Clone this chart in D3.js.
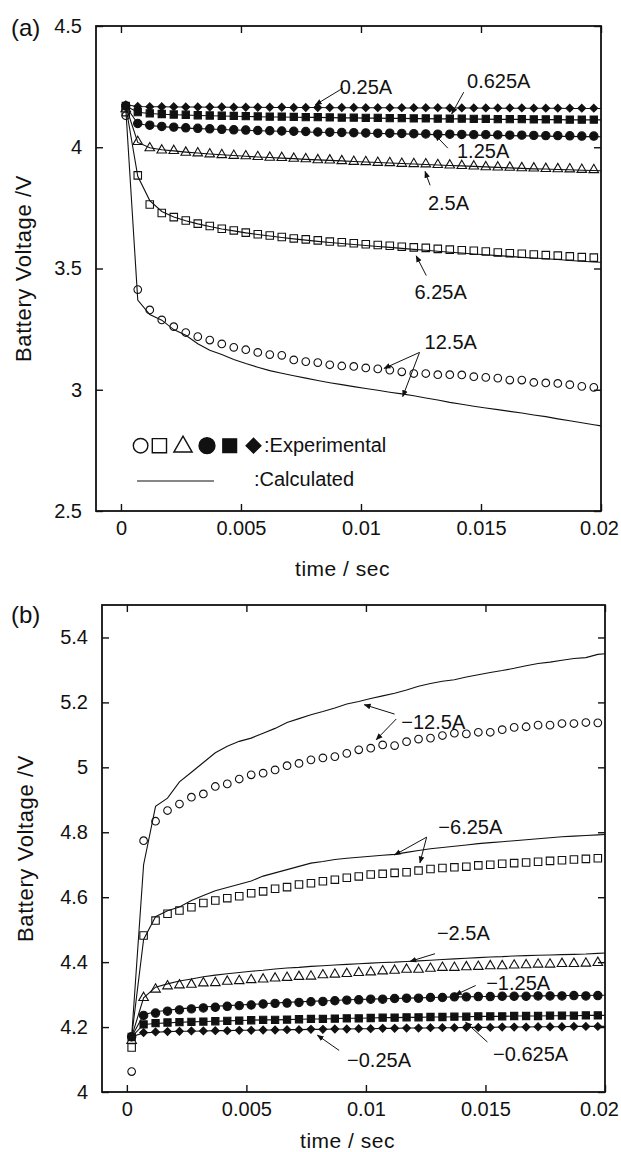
<!DOCTYPE html>
<html><head><meta charset="utf-8">
<script src="https://cdn.jsdelivr.net/npm/d3@7"></script>
<style>
body{margin:0;background:#fff}
text{font-family:"Liberation Sans",Arial,Helvetica,sans-serif;fill:#111}
</style>
</head><body>
<svg id="chart" width="621" height="1152"></svg>
<script>
// ---------------- data ----------------
const times = [0.0002,0.0007,0.0012,0.0017,0.0022,0.0027,0.0032,0.0037,0.0042,0.0047,0.0052,0.0057,0.0062,0.0067,0.0072,0.0077,0.0082,0.0087,0.0092,0.0097,0.0102,0.0107,0.0112,0.0117,0.0122,0.0127,0.0132,0.0137,0.0142,0.0147,0.0152,0.0157,0.0162,0.0167,0.0172,0.0177,0.0182,0.0187,0.0192,0.0197];
const calcTimes = [0.0002,0.0007,0.0012,0.0017,0.0022,0.0027,0.0032,0.0037,0.0042,0.0047,0.0052,0.0057,0.0062,0.0067,0.0072,0.0077,0.0082,0.0087,0.0092,0.0097,0.0102,0.0107,0.0112,0.0117,0.0122,0.0127,0.0132,0.0137,0.0142,0.0147,0.0152,0.0157,0.0162,0.0167,0.0172,0.0177,0.0182,0.0187,0.0192,0.0197,0.0200];

const xTicks = [0,0.005,0.01,0.015,0.02];
const xTickLabels = ["0","0.005","0.01","0.015","0.02"];
const yTicksA = [2.5,3,3.5,4,4.5];
const yTickLabelsA = ["2.5","3","3.5","4","4.5"];
const yTicksB = [4,4.2,4.4,4.6,4.8,5,5.2,5.4];
const yTickLabelsB = ["4","4.2","4.4","4.6","4.8","5","5.2","5.4"];

// (a) discharge – experimental
const expA_12_5 = [4.13,3.413,3.329,3.288,3.260,3.236,3.219,3.205,3.189,3.175,3.165,3.154,3.145,3.142,3.123,3.116,3.112,3.103,3.098,3.096,3.090,3.086,3.081,3.074,3.067,3.067,3.062,3.062,3.061,3.054,3.051,3.048,3.040,3.040,3.030,3.028,3.026,3.021,3.014,3.010];
const expA_6_25 = [4.145,3.884,3.764,3.729,3.712,3.698,3.685,3.675,3.664,3.657,3.648,3.641,3.636,3.630,3.624,3.620,3.616,3.611,3.608,3.604,3.600,3.597,3.594,3.590,3.587,3.585,3.581,3.578,3.575,3.573,3.570,3.566,3.563,3.561,3.558,3.555,3.553,3.550,3.547,3.545];
const expA_2_5 = [4.16,4.025,3.999,3.990,3.988,3.981,3.978,3.974,3.971,3.968,3.966,3.963,3.960,3.959,3.956,3.954,3.950,3.949,3.946,3.943,3.942,3.939,3.938,3.935,3.934,3.933,3.930,3.928,3.926,3.924,3.921,3.920,3.919,3.917,3.916,3.914,3.913,3.912,3.910,3.909];
const expA_1_25 = [4.17,4.098,4.091,4.086,4.083,4.080,4.078,4.076,4.074,4.072,4.071,4.069,4.068,4.067,4.066,4.065,4.063,4.062,4.061,4.060,4.059,4.058,4.058,4.057,4.056,4.055,4.054,4.054,4.053,4.052,4.052,4.051,4.050,4.050,4.049,4.048,4.048,4.047,4.046,4.046];
const expA_0_625 = [4.17,4.145,4.140,4.137,4.135,4.134,4.132,4.131,4.130,4.129,4.128,4.127,4.126,4.126,4.125,4.124,4.124,4.123,4.122,4.122,4.121,4.121,4.120,4.120,4.119,4.119,4.118,4.118,4.118,4.117,4.117,4.116,4.116,4.116,4.115,4.115,4.115,4.114,4.114,4.114];
const expA_0_25 = [4.175,4.168,4.167,4.167,4.167,4.166,4.166,4.166,4.166,4.165,4.165,4.165,4.165,4.165,4.164,4.164,4.164,4.164,4.164,4.164,4.163,4.163,4.163,4.163,4.163,4.163,4.163,4.162,4.162,4.162,4.162,4.162,4.162,4.162,4.161,4.161,4.161,4.161,4.161,4.161];

// (a) discharge – calculated
const calcA_12_5 = [4.16,3.37,3.31,3.287,3.248,3.225,3.19,3.163,3.145,3.125,3.108,3.093,3.079,3.068,3.058,3.048,3.038,3.029,3.021,3.013,3.005,2.998,2.990,2.983,2.975,2.966,2.958,2.948,2.940,2.932,2.925,2.918,2.911,2.904,2.896,2.889,2.880,2.872,2.864,2.856,2.851];
const calcA_6_25 = [4.17,3.88,3.78,3.735,3.712,3.697,3.684,3.673,3.663,3.655,3.647,3.640,3.634,3.628,3.622,3.617,3.612,3.607,3.603,3.599,3.595,3.591,3.587,3.583,3.579,3.575,3.571,3.567,3.564,3.560,3.557,3.553,3.550,3.546,3.543,3.540,3.537,3.533,3.530,3.527,3.526];
const calcA_2_5 = [4.17,4.02,3.998,3.990,3.985,3.980,3.976,3.972,3.969,3.966,3.963,3.960,3.958,3.955,3.953,3.950,3.948,3.946,3.944,3.941,3.939,3.937,3.935,3.933,3.931,3.929,3.927,3.925,3.923,3.921,3.919,3.917,3.915,3.913,3.911,3.910,3.908,3.907,3.905,3.904,3.903];
const calcA_1_25 = [4.17,4.097,4.090,4.085,4.082,4.079,4.077,4.075,4.073,4.071,4.070,4.068,4.067,4.066,4.065,4.063,4.062,4.061,4.060,4.059,4.058,4.057,4.056,4.055,4.054,4.053,4.052,4.052,4.051,4.050,4.049,4.049,4.048,4.047,4.047,4.046,4.045,4.045,4.044,4.044,4.043];
const calcA_0_625 = [4.17,4.144,4.139,4.136,4.134,4.133,4.131,4.130,4.129,4.128,4.127,4.126,4.125,4.125,4.124,4.123,4.123,4.122,4.121,4.121,4.120,4.120,4.119,4.119,4.118,4.118,4.117,4.117,4.117,4.116,4.116,4.115,4.115,4.115,4.114,4.114,4.114,4.113,4.113,4.113,4.113];
const calcA_0_25 = [4.175,4.168,4.167,4.167,4.166,4.166,4.166,4.165,4.165,4.165,4.165,4.165,4.164,4.164,4.164,4.164,4.164,4.163,4.163,4.163,4.163,4.163,4.163,4.162,4.162,4.162,4.162,4.162,4.162,4.162,4.161,4.161,4.161,4.161,4.161,4.161,4.161,4.160,4.160,4.160,4.160];

// (b) charge – experimental
const expB_12_5 = [4.063,4.774,4.834,4.867,4.887,4.908,4.918,4.941,4.949,4.964,4.977,4.982,4.992,5.005,5.012,5.023,5.029,5.033,5.043,5.054,5.059,5.069,5.067,5.079,5.087,5.090,5.098,5.105,5.103,5.108,5.108,5.116,5.123,5.125,5.130,5.130,5.135,5.135,5.138,5.137];
const expB_6_25 = [4.137,4.482,4.528,4.549,4.559,4.569,4.582,4.590,4.597,4.603,4.612,4.618,4.626,4.631,4.639,4.643,4.649,4.654,4.660,4.664,4.670,4.672,4.675,4.677,4.682,4.687,4.690,4.692,4.694,4.698,4.700,4.703,4.705,4.707,4.709,4.712,4.714,4.716,4.718,4.720];
const expB_2_5 = [4.16,4.292,4.318,4.328,4.331,4.333,4.337,4.338,4.342,4.344,4.347,4.349,4.352,4.354,4.357,4.358,4.362,4.364,4.366,4.369,4.371,4.374,4.376,4.379,4.379,4.382,4.385,4.385,4.387,4.388,4.390,4.390,4.392,4.393,4.395,4.395,4.397,4.397,4.398,4.400];
const expB_1_25 = [4.17,4.236,4.243,4.249,4.253,4.256,4.259,4.261,4.264,4.266,4.268,4.271,4.273,4.274,4.276,4.278,4.279,4.281,4.283,4.284,4.286,4.286,4.288,4.289,4.289,4.291,4.291,4.293,4.293,4.294,4.294,4.295,4.295,4.295,4.296,4.296,4.296,4.297,4.296,4.297];
const expB_0_625 = [4.17,4.208,4.212,4.214,4.215,4.216,4.217,4.218,4.219,4.220,4.221,4.222,4.222,4.223,4.224,4.225,4.225,4.226,4.227,4.227,4.228,4.229,4.229,4.230,4.230,4.231,4.231,4.232,4.232,4.233,4.233,4.233,4.234,4.234,4.234,4.235,4.235,4.235,4.236,4.236];
const expB_0_25 = [4.17,4.183,4.185,4.186,4.187,4.188,4.188,4.189,4.189,4.190,4.190,4.191,4.191,4.192,4.192,4.193,4.193,4.194,4.194,4.195,4.195,4.196,4.196,4.197,4.197,4.198,4.198,4.198,4.199,4.199,4.199,4.200,4.200,4.200,4.201,4.201,4.201,4.202,4.202,4.202];

// (b) charge – calculated
const calcB_12_5 = [4.17,4.70,4.88,4.905,4.955,4.985,5.015,5.045,5.065,5.08,5.09,5.105,5.12,5.138,5.15,5.162,5.172,5.183,5.195,5.203,5.212,5.22,5.228,5.238,5.25,5.258,5.265,5.27,5.278,5.285,5.292,5.298,5.305,5.313,5.32,5.324,5.33,5.335,5.338,5.348,5.35];
const calcB_6_25 = [4.17,4.47,4.54,4.558,4.57,4.59,4.605,4.62,4.63,4.64,4.65,4.665,4.675,4.685,4.695,4.705,4.71,4.716,4.72,4.723,4.726,4.729,4.732,4.738,4.744,4.749,4.753,4.757,4.761,4.765,4.768,4.771,4.774,4.777,4.780,4.783,4.786,4.788,4.790,4.792,4.793];
const calcB_2_5 = [4.17,4.29,4.323,4.333,4.342,4.348,4.355,4.36,4.364,4.368,4.372,4.375,4.379,4.382,4.384,4.387,4.389,4.391,4.393,4.395,4.397,4.399,4.400,4.402,4.404,4.406,4.408,4.410,4.412,4.414,4.416,4.417,4.419,4.420,4.421,4.422,4.423,4.424,4.425,4.427,4.428];
const calcB_1_25 = [4.17,4.238,4.247,4.252,4.256,4.259,4.262,4.264,4.266,4.268,4.270,4.272,4.274,4.276,4.278,4.279,4.281,4.282,4.284,4.285,4.286,4.287,4.288,4.289,4.290,4.291,4.292,4.293,4.293,4.294,4.294,4.295,4.295,4.296,4.296,4.296,4.297,4.297,4.297,4.298,4.298];
const calcB_0_625 = [4.17,4.208,4.211,4.213,4.215,4.216,4.217,4.218,4.219,4.220,4.221,4.222,4.222,4.223,4.224,4.225,4.225,4.226,4.227,4.227,4.228,4.229,4.229,4.230,4.230,4.231,4.231,4.232,4.232,4.233,4.233,4.233,4.234,4.234,4.234,4.235,4.235,4.235,4.236,4.236,4.236];
const calcB_0_25 = [4.17,4.182,4.184,4.186,4.187,4.187,4.188,4.189,4.189,4.190,4.190,4.191,4.191,4.192,4.192,4.193,4.193,4.194,4.194,4.195,4.195,4.196,4.196,4.197,4.197,4.197,4.198,4.198,4.199,4.199,4.199,4.200,4.200,4.200,4.201,4.201,4.201,4.202,4.202,4.202,4.202];

const markerKinds = ["openCircle","openSquare","openTriangle","filledCircle","filledSquare","filledDiamond"];

// annotations: label, text anchor point [t,V], arrows [[t0,V0,t1,V1],...]
const annotA = [
  {label:"0.25A", at:[0.00912,4.219], arrows:[[0.00925,4.244,0.00810,4.175]]},
  {label:"0.625A", at:[0.01442,4.244], arrows:[[0.01428,4.227,0.01378,4.138]]},
  {label:"1.25A", at:[0.01400,3.955], arrows:[[0.01362,3.996,0.01308,4.052]]},
  {label:"2.5A", at:[0.01279,3.740], arrows:[[0.01288,3.843,0.01267,3.900]]},
  {label:"6.25A", at:[0.01223,3.376], arrows:[[0.01272,3.471,0.01230,3.552]]},
  {label:"12.5A", at:[0.01265,3.169], arrows:[[0.01244,3.154,0.01096,3.088],[0.01244,3.154,0.01174,2.972]]}
];
const annotB = [
  {label:"\u221212.5A", at:[0.01148,5.119], arrows:[[0.01120,5.164,0.00993,5.193],[0.01127,5.149,0.01043,5.085]]},
  {label:"\u22126.25A", at:[0.01303,4.796], arrows:[[0.01254,4.785,0.01120,4.730],[0.01254,4.785,0.01226,4.706]]},
  {label:"\u22122.5A", at:[0.01297,4.467], arrows:[[0.01289,4.426,0.01184,4.402]]},
  {label:"\u22121.25A", at:[0.01503,4.313], arrows:[[0.01459,4.328,0.01374,4.299]]},
  {label:"\u22120.25A", at:[0.00921,4.076], arrows:[[0.00888,4.128,0.00797,4.175]]},
  {label:"\u22120.625A", at:[0.01532,4.097], arrows:[[0.01508,4.154,0.01417,4.215]]}
];

// ---------------- drawing ----------------
const svg = d3.select("#chart");
svg.append("rect").attr("width",621).attr("height",1152).attr("fill","#fff");
const FONT = '"Liberation Sans",Arial,Helvetica,sans-serif';
const INK = "#111";
const FS = 20;

svg.append("defs").append("marker")
  .attr("id","arrow").attr("viewBox","0 0 10 10").attr("refX",9).attr("refY",5)
  .attr("markerWidth",7).attr("markerHeight",7).attr("markerUnits","userSpaceOnUse")
  .attr("orient","auto")
  .append("path").attr("d","M0,1 L10,5 L0,9 Z").attr("fill",INK);

const diamondType = {draw(ctx,size){const r=Math.sqrt(size/2);ctx.moveTo(0,-r);ctx.lineTo(r,0);ctx.lineTo(0,r);ctx.lineTo(-r,0);ctx.closePath();}};
const triType = {draw(ctx,size){const w=Math.sqrt(size*4/Math.sqrt(3));const h=w*Math.sqrt(3)/2;ctx.moveTo(0,-h*0.6);ctx.lineTo(w/2,h*0.4);ctx.lineTo(-w/2,h*0.4);ctx.closePath();}};
function symbolFor(kind, scale){
  const s = scale||1;
  switch(kind){
    case "openCircle": return {p:d3.symbol(d3.symbolCircle, 46*s*s)(), fill:"none"};
    case "openSquare": return {p:d3.symbol(d3.symbolSquare, 56*s*s)(), fill:"none"};
    case "openTriangle": return {p:d3.symbol(triType, 40*s*s)(), fill:"none"};
    case "filledCircle": return {p:d3.symbol(d3.symbolCircle, 55*s*s)(), fill:INK};
    case "filledSquare": return {p:d3.symbol(d3.symbolSquare, 52*s*s)(), fill:INK};
    case "filledDiamond": return {p:d3.symbol(diamondType, 30*s*s)(), fill:INK};
  }
}

function drawPanel(cfg){
  const g = svg.append("g");
  const x = d3.scaleLinear().domain([-0.00104,0.02]).range([cfg.left,cfg.right]);
  const y = d3.scaleLinear().domain(cfg.yDomain).range([cfg.bottom,cfg.top]);

  const line = d3.line().x((d,i)=>x(calcTimes[i])).y(d=>y(d));
  cfg.calc.forEach(arr=>{
    g.append("path").attr("d",line(arr)).attr("fill","none").attr("stroke",INK).attr("stroke-width",1.1);
  });
  cfg.exp.forEach((arr,k)=>{
    const sym = symbolFor(markerKinds[k]);
    g.append("g").selectAll("path").data(arr).join("path")
      .attr("d",sym.p)
      .attr("transform",(d,i)=>`translate(${x(times[i])},${y(d)})`)
      .attr("fill",sym.fill).attr("stroke",INK).attr("stroke-width",1.1);
  });

  const styleAxis = sel => {
    sel.select(".domain").remove();
    sel.selectAll("line").attr("stroke",INK).attr("stroke-width",1.4);
    sel.selectAll("text").attr("font-size",FS).attr("font-family",FONT).attr("fill",INK);
  };
  const bx = g.append("g").attr("transform",`translate(0,${cfg.bottom})`)
    .call(d3.axisBottom(x).tickValues(xTicks).tickSize(-7).tickPadding(10).tickFormat((d,i)=>xTickLabels[i])).call(styleAxis);
  bx.selectAll("text").filter(d=>d===0.02).attr("dx",cfg.lastDx);
  g.append("g").attr("transform",`translate(0,${cfg.top})`)
    .call(d3.axisTop(x).tickValues(xTicks).tickSize(-7).tickFormat("")).call(styleAxis);
  g.append("g").attr("transform",`translate(${cfg.left},0)`)
    .call(d3.axisLeft(y).tickValues(cfg.yTicks).tickSize(-7).tickPadding(14).tickFormat((d,i)=>cfg.yLabels[i])).call(styleAxis);
  g.append("g").attr("transform",`translate(${cfg.right},0)`)
    .call(d3.axisRight(y).tickValues(cfg.yTicks).tickSize(-7).tickFormat("")).call(styleAxis);

  g.append("rect").attr("x",cfg.left).attr("y",cfg.top).attr("width",cfg.right-cfg.left).attr("height",cfg.bottom-cfg.top)
    .attr("fill","none").attr("stroke",INK).attr("stroke-width",1.8);

  cfg.annot.forEach(a=>{
    g.append("text").attr("x",x(a.at[0])).attr("y",y(a.at[1])).attr("font-size",FS).text(a.label);
    a.arrows.forEach(ar=>{
      g.append("line").attr("x1",x(ar[0])).attr("y1",y(ar[1])).attr("x2",x(ar[2])).attr("y2",y(ar[3]))
        .attr("stroke",INK).attr("stroke-width",1).attr("marker-end","url(#arrow)");
    });
  });

  svg.append("text").attr("x",11).attr("y",cfg.tagY).attr("font-size",24).text(cfg.tag);
  svg.append("text").attr("x",(cfg.left+cfg.right)/2 - 6).attr("y",cfg.xTitleY).attr("text-anchor","middle")
    .attr("font-size",21).attr("letter-spacing",0.5).text("time / sec");
  svg.append("text").attr("transform",`translate(${cfg.yTitleX},${(cfg.top+cfg.bottom)/2}) rotate(-90)`)
    .attr("text-anchor","middle").attr("font-size",22).attr("letter-spacing",0.6).text("Battery Voltage /V");
  return {x,y,g};
}

const A = drawPanel({left:96,right:601,top:26,bottom:511,yDomain:[2.5,4.5],yTicks:yTicksA,yLabels:yTickLabelsA,
  exp:[expA_12_5,expA_6_25,expA_2_5,expA_1_25,expA_0_625,expA_0_25],
  calc:[calcA_12_5,calcA_6_25,calcA_2_5,calcA_1_25,calcA_0_625,calcA_0_25],
  annot:annotA, tag:"(a)", tagY:36, xTitleY:576, yTitleX:31, lastDx:-2});

const B = drawPanel({left:102,right:605,top:605,bottom:1092,yDomain:[4,5.5],yTicks:yTicksB,yLabels:yTickLabelsB,
  exp:[expB_12_5,expB_6_25,expB_2_5,expB_1_25,expB_0_625,expB_0_25],
  calc:[calcB_12_5,calcB_6_25,calcB_2_5,calcB_1_25,calcB_0_625,calcB_0_25],
  annot:annotB, tag:"(b)", tagY:623, xTitleY:1148, yTitleX:33, lastDx:-6});

// legend in panel (a)
const legY = 445.7, legSyms = [140.6,159.4,183,207,229.7,253.5];
markerKinds.forEach((k,i)=>{
  const s = symbolFor(k,1.9);
  A.g.append("path").attr("d",s.p).attr("transform",`translate(${legSyms[i]},${legY})`)
    .attr("fill",s.fill).attr("stroke",INK).attr("stroke-width",1.4);
});
A.g.append("text").attr("x",264).attr("y",452).attr("font-size",FS).text(":Experimental");
A.g.append("line").attr("x1",137).attr("x2",214).attr("y1",481).attr("y2",481).attr("stroke",INK).attr("stroke-width",1.1);
A.g.append("text").attr("x",254).attr("y",486).attr("font-size",FS).text(":Calculated");
</script>
</body></html>
